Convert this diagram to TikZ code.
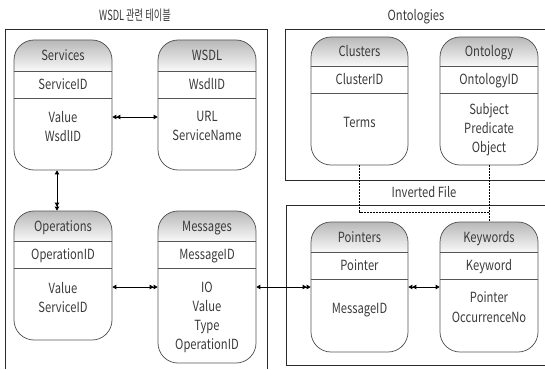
\documentclass[tikz,border=0pt]{standalone}
\usepackage{fontspec}
\setmainfont{Noto Sans CJK KR}[FakeStretch=0.8]
\newfontfamily\titlefont{Noto Sans CJK KR}[FakeStretch=0.66]
\usetikzlibrary{arrows.meta,fit,calc}
\definecolor{hdrtop}{HTML}{B8B8B8}
\definecolor{hdrbot}{HTML}{F8F8F8}
\definecolor{boxline}{HTML}{555555}
\definecolor{frameline}{HTML}{2A2A2A}
\definecolor{txt}{HTML}{3A3A3A}
\tikzset{
  tblbox/.style={draw=boxline, line width=0.75pt, rounded corners=20pt, inner sep=0pt},
  rowline/.style={draw=boxline, line width=0.75pt},
  lbl/.style={inner sep=0pt, text=txt, font=\fontsize{14}{19}\selectfont, text height=10.3pt, text depth=0pt},
  body/.style={inner sep=0pt, text=txt, font=\fontsize{14}{19}\selectfont, align=center, anchor=north},
  frame/.style={draw=frameline, line width=0.8pt},
  conn/.style={draw=black, line width=0.8pt, >={Triangle[length=4pt,width=4.5pt]}},
  dashconn/.style={draw=black, line width=0.9pt, dash pattern=on 2pt off 1pt},
}
\newcommand\dbtable[9]{%
  \begin{scope}
    \clip[rounded corners=20pt] (#2,#3) rectangle (#4,#5);
    \shade[top color=hdrtop,bottom color=hdrbot] (#2,#3) rectangle (#4,#6);
  \end{scope}
  \node[tblbox, fit={(#2,#3)(#4,#5)}] (#1) {};
  \draw[rowline] (#2,#6) -- (#4,#6);
  \draw[rowline] (#2,#7) -- (#4,#7);
  \node[lbl] (#1-title) at ({(#2+#4)/2},{(#3+#6)/2}) {#8};
  \node[lbl] (#1-key) at ({(#2+#4)/2},{(#6+#7)/2}) {#9};
}
\begin{document}
\begin{tikzpicture}[x=1pt,y=-1pt]
\useasboundingbox (0,0) rectangle (545,369);
% frames
\draw[frame] (5,369) -- (5,29.5) -- (267,29.5) -- (267,369);
\draw[frame] (546,29.5) -- (285.5,29.5) -- (285.5,180) -- (546,180);
\draw[frame] (546,205) -- (286.5,205) -- (286.5,365) -- (546,365);
% titles
\node[lbl, font=\titlefont\fontsize{14}{19}\selectfont] (t-wsdl) at (135,15) {WSDL 관련 테이블};
\node[lbl] (t-onto) at (416,15) {Ontologies};
\node[lbl] (t-inv) at (424,192) {Inverted File};
% tables
\dbtable{services}{14}{40}{112}{170}{71}{98}{Services}{ServiceID}
\dbtable{wsdl}{158}{40}{256}{170}{71}{98}{WSDL}{WsdlID}
\dbtable{operations}{14}{211}{112}{340}{241}{268}{Operations}{OperationID}
\dbtable{messages}{158}{211}{256}{363}{241}{268}{Messages}{MessageID}
\dbtable{clusters}{311}{37}{408}{165}{66}{93}{Clusters}{ClusterID}
\dbtable{ontology}{440}{37}{538}{165}{66}{93}{Ontology}{OntologyID}
\dbtable{pointers}{311}{222}{408}{352}{252}{279}{Pointers}{Pointer}
\dbtable{keywords}{440}{222}{538}{352}{252}{279}{Keywords}{Keyword}
% bodies
\node[body] (services-body) at (63,110.8) {Value\\WsdlID};
\node[body] (wsdl-body) at (207,110.8) {URL\\ServiceName};
\node[body] (operations-body) at (63,281.8) {Value\\ServiceID};
\node[body] (messages-body) at (207,281.8) {IO\\Value\\Type\\OperationID};
\node[body] (clusters-body) at (359.5,116.8) {Terms};
\node[body] (ontology-body) at (489,102.8) {Subject\\Predicate\\Object};
\node[body] (pointers-body) at (359.5,302.8) {MessageID};
\node[body, font=\fontsize{14}{20}\selectfont] (keywords-body) at (489,291.8) {Pointer\\OccurrenceNo};
% connectors
\draw[conn,<<->] ([yshift=-12pt]services.east) -- ([yshift=-12pt]wsdl.west);
\draw[conn,<->>] ([xshift=-6pt]services.south) -- ([xshift=-6pt]operations.north);
\draw[conn,<->>] (operations.east |- messages.west) -- (messages.west);
\draw[conn,<->>] (messages.east) -- (pointers.west |- messages.east);
\draw[conn,<<->] (pointers.east) -- (keywords.west);
% dashed
\coordinate (jn) at (ontology.south |- 0,212);
\draw[dashconn] (clusters.south) |- (jn);
\draw[dashconn] (ontology.south) -- (keywords.north);
\end{tikzpicture}
\end{document}
